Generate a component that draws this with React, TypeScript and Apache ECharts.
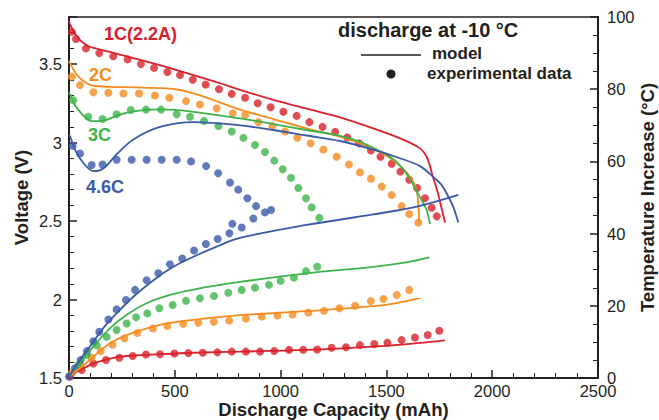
import React, { useEffect, useRef } from "react";
import * as echarts from "echarts";

// ---- Data (x: discharge capacity mAh) ----
// Voltage model curves
const model1C_V: number[][] = [[0,3.775],[5,3.753],[28,3.695],[52,3.653],[84,3.62],[115,3.603],[209,3.572],[336,3.527],[462,3.48],[588,3.43],[714,3.378],[808,3.336],[966,3.272],[1123,3.216],[1281,3.16],[1438,3.09],[1564,3.027],[1659,2.963],[1690,2.91],[1706,2.85],[1720,2.78],[1739,2.7],[1763,2.57],[1777,2.49]];
const model2C_V: number[][] = [[0,3.52],[5,3.505],[28,3.45],[52,3.41],[84,3.378],[115,3.362],[194,3.355],[351,3.35],[509,3.338],[619,3.3],[808,3.21],[966,3.15],[1123,3.09],[1281,3.037],[1375,2.995],[1470,2.94],[1549,2.87],[1595,2.81],[1627,2.75],[1645,2.68],[1651,2.6],[1655,2.49]];
const model3C_V: number[][] = [[0,3.32],[5,3.307],[28,3.239],[52,3.196],[84,3.152],[107,3.136],[162,3.14],[225,3.17],[273,3.19],[351,3.207],[430,3.211],[588,3.196],[808,3.154],[966,3.118],[1123,3.08],[1281,3.043],[1375,3.005],[1470,2.945],[1517,2.91],[1564,2.855],[1611,2.77],[1643,2.69],[1672,2.62],[1690,2.57],[1706,2.48]];
const model46C_V: number[][] = [[0,3.05],[5,3.04],[30,2.95],[68,2.87],[115,2.818],[162,2.835],[225,2.925],[304,3.02],[430,3.1],[588,3.13],[808,3.11],[966,3.08],[1123,3.045],[1281,3.01],[1438,2.955],[1564,2.9],[1659,2.85],[1730,2.77],[1761,2.73],[1793,2.655],[1816,2.59],[1840,2.49]];

// Voltage experimental data
const exp1C_V: number[][] = [[13,3.705],[33,3.66],[80,3.6],[143,3.57],[209,3.55],[277,3.53],[340,3.5],[402,3.476],[465,3.45],[525,3.43],[585,3.4],[646,3.37],[709,3.34],[769,3.31],[832,3.285],[892,3.25],[953,3.225],[1013,3.196],[1076,3.17],[1136,3.13],[1198,3.1],[1258,3.068],[1315,3.032],[1371,2.995],[1427,2.95],[1472,2.91],[1525,2.865],[1566,2.815],[1608,2.763],[1645,2.71],[1682,2.645],[1714,2.585],[1738,2.53]];
const exp2C_V: number[][] = [[13,3.42],[52,3.366],[115,3.32],[186,3.317],[257,3.313],[331,3.313],[406,3.3],[474,3.285],[553,3.264],[619,3.243],[698,3.218],[774,3.186],[832,3.175],[895,3.13],[961,3.105],[1021,3.07],[1079,3.03],[1142,2.995],[1202,2.956],[1265,2.91],[1323,2.86],[1375,2.81],[1427,2.77],[1478,2.72],[1525,2.665],[1572,2.595],[1608,2.545],[1651,2.49]];
const exp3C_V: number[][] = [[20,3.27],[91,3.164],[159,3.15],[225,3.18],[292,3.207],[364,3.21],[435,3.21],[509,3.18],[572,3.164],[638,3.137],[706,3.105],[769,3.07],[824,3.03],[879,2.984],[926,2.94],[970,2.885],[1010,2.83],[1049,2.776],[1084,2.71],[1120,2.645],[1147,2.587],[1183,2.52]];
const exp46C_V: number[][] = [[17,2.98],[52,2.93],[107,2.857],[159,2.86],[225,2.89],[296,2.89],[367,2.89],[438,2.89],[509,2.89],[577,2.88],[648,2.85],[705,2.805],[761,2.745],[800,2.7],[843,2.645],[884,2.595],[926,2.555],[955,2.57]];

// Temperature model curves (right axis, °C)
const model1C_T: number[][] = [[0,0.5],[52,2.2],[115,4.0],[194,5.4],[273,6.1],[430,6.6],[588,7.0],[808,7.3],[1123,7.8],[1438,8.7],[1600,9.4],[1777,10.4]];
const model2C_T: number[][] = [[0,0.5],[52,2.7],[115,5.9],[194,9.6],[273,11.9],[430,14.7],[588,16.1],[808,17.4],[1123,18.5],[1438,19.9],[1560,20.9],[1662,22.2]];
const model3C_T: number[][] = [[0,0.5],[52,4.1],[115,8.7],[194,13.8],[273,17.5],[367,20.7],[477,23.0],[588,24.5],[808,26.6],[1123,29.0],[1438,30.8],[1600,32.1],[1703,33.4]];
const model46C_T: number[][] = [[0,0.5],[52,5.0],[99,8.7],[162,13.8],[225,17.9],[304,22.5],[399,27.1],[493,30.8],[588,33.6],[698,36.4],[808,38.8],[1123,42.4],[1438,45.3],[1659,47.7],[1840,50.7]];

// Temperature experimental data
const exp1C_T: number[][] = [[5,0.4],[60,2.2],[115,4.0],[175,5.0],[238,5.6],[301,6.1],[364,6.5],[430,6.6],[498,6.8],[564,6.9],[632,7.0],[701,7.1],[769,7.3],[836,7.3],[903,7.3],[970,7.5],[1040,7.8],[1107,7.8],[1173,7.9],[1241,8.4],[1309,8.5],[1375,9.1],[1443,9.4],[1505,9.8],[1572,10.5],[1635,11.2],[1695,11.9],[1750,13.1]];
const exp2C_T: number[][] = [[13,1.3],[55,3.4],[107,5.7],[150,7.5],[205,9.2],[262,11.0],[323,12.5],[396,13.7],[465,14.4],[540,15.0],[611,15.3],[685,15.6],[757,15.9],[836,16.5],[911,17.0],[985,17.3],[1057,17.6],[1131,18.1],[1205,18.6],[1278,19.3],[1352,20.0],[1426,21.3],[1486,21.9],[1549,23.0],[1608,24.4]];
const exp3C_T: number[][] = [[44,3.6],[84,6.4],[131,9.1],[178,11.4],[225,13.3],[273,15.1],[317,16.8],[370,17.9],[427,19.3],[490,20.2],[553,21.4],[619,22.1],[685,22.7],[753,23.6],[816,24.4],[879,25.0],[945,25.8],[1000,26.9],[1063,27.8],[1120,29.6],[1173,30.8]];
const exp46C_T: number[][] = [[0,0.4],[28,2.7],[55,5.0],[85,7.5],[115,10.2],[143,12.8],[186,16.2],[225,19.0],[269,21.6],[312,24.4],[367,27.1],[422,29.0],[477,31.5],[535,33.1],[591,35.3],[647,37.1],[703,38.5],[758,40.1],[772,42.7],[816,41.7],[871,44.2]];

const rateLabels = ["1C(2.2A)", "2C", "3C", "4.6C"];
const xTicks = { min: 0, max: 2500, interval: 500 };
const vTicks = { min: 1.5, max: 3.8, interval: 0.5 };
const tTicks = { min: 0, max: 100, interval: 20 };

const COLORS = ["#d9202b", "#f68b1f", "#3cb44b", "#3a59a7"];
const INK = "#231f20";
const FONT = '"Liberation Sans", Arial, Helvetica, sans-serif';

export default function App() {
  const ref = useRef<HTMLDivElement>(null);
  useEffect(() => {
    document.body.style.margin = "0";
    if (!ref.current) return;
    const chart = echarts.init(ref.current, undefined, { renderer: "svg" });

    const modelsV = [model1C_V, model2C_V, model3C_V, model46C_V];
    const expsV = [exp1C_V, exp2C_V, exp3C_V, exp46C_V];
    const modelsT = [model1C_T, model2C_T, model3C_T, model46C_T];
    const expsT = [exp1C_T, exp2C_T, exp3C_T, exp46C_T];

    const series: any[] = [];
    for (let i = 0; i < 4; i++) {
      series.push({ type: "scatter", yAxisIndex: 0, data: expsV[i], symbolSize: 8, itemStyle: { color: COLORS[i] }, z: 2 });
      series.push({ type: "scatter", yAxisIndex: 1, data: expsT[i], symbolSize: 8, itemStyle: { color: COLORS[i] }, z: 2 });
    }
    for (let i = 0; i < 4; i++) {
      const common = { type: "line", showSymbol: false, smooth: 0.35, z: 3 };
      series.push({ ...common, yAxisIndex: 0, data: modelsV[i], lineStyle: { color: COLORS[i], width: 1.8 } });
      series.push({ ...common, yAxisIndex: 1, data: modelsT[i], lineStyle: { color: COLORS[i], width: 1.8 } });
    }

    const plain = (v: number) => String(v);
    const axisLabel = { color: INK, fontSize: 16.5, lineHeight: 14, fontFamily: FONT, formatter: plain };
    const nameStyle = { color: INK, fontSize: 18.5, lineHeight: 18, fontWeight: "bold", fontFamily: FONT };

    const txt = (text: string, x: number, y: number, color: string, size: number) => ({
      type: "text",
      x,
      y,
      style: {
        text,
        fill: color,
        font: `bold ${size}px ${FONT}`,
        lineHeight: size,
        align: "left",
        verticalAlign: "middle",
        textAlign: "left",
        textVerticalAlign: "middle",
      },
      z: 10,
    });

    chart.setOption({
      animation: false,
      grid: { left: 69, right: 61, top: 17, bottom: 42, show: true, borderColor: INK, borderWidth: 1.5, containLabel: false, outerBoundsMode: "none" },
      xAxis: {
        type: "value",
        min: xTicks.min,
        max: xTicks.max,
        interval: xTicks.interval,
        name: "Discharge Capacity (mAh)",
        nameLocation: "middle",
        nameGap: 22.5,
        nameMoveOverlap: false,
        nameTextStyle: nameStyle,
        axisLine: { show: true, lineStyle: { color: INK, width: 2 } },
        axisTick: { show: true, inside: true, length: 8, lineStyle: { color: INK, width: 1.5 } },
        minorTick: { show: true, splitNumber: 5, length: 5, lineStyle: { color: INK, width: 1 } },
        splitLine: { show: false },
        axisLabel: { ...axisLabel, margin: 5.5 },
      },
      yAxis: [
        {
          type: "value",
          position: "left",
          min: vTicks.min,
          max: vTicks.max,
          interval: vTicks.interval,
          name: "Voltage (V)",
          nameLocation: "middle",
          nameRotate: 90,
          nameGap: 39,
          nameMoveOverlap: false,
          nameTextStyle: nameStyle,
          axisLine: { show: true, lineStyle: { color: INK, width: 2 } },
          axisTick: { show: true, inside: true, length: 8, lineStyle: { color: INK, width: 1.5 } },
          minorTick: { show: true, splitNumber: 5, length: 5, lineStyle: { color: INK, width: 1 } },
          splitLine: { show: false },
          axisLabel: { ...axisLabel, margin: 7, showMaxLabel: false },
        },
        {
          type: "value",
          position: "right",
          min: tTicks.min,
          max: tTicks.max,
          interval: tTicks.interval,
          name: "Temperature Increase (°C)",
          nameLocation: "middle",
          nameRotate: 90,
          nameGap: 40,
          nameMoveOverlap: false,
          nameTextStyle: nameStyle,
          axisLine: { show: true, lineStyle: { color: INK, width: 2 } },
          axisTick: { show: true, inside: true, length: 8, lineStyle: { color: INK, width: 1.5 } },
          minorTick: { show: true, splitNumber: 4, length: 5, lineStyle: { color: INK, width: 1 } },
          splitLine: { show: false },
          axisLabel: { ...axisLabel, lineHeight: 12, margin: 9 },
        },
      ],
      graphic: [
        txt(rateLabels[0], 104, 34, COLORS[0], 18),
        txt(rateLabels[1], 89, 74.5, COLORS[1], 18),
        txt(rateLabels[2], 88, 135, COLORS[2], 18),
        txt(rateLabels[3], 86, 187, COLORS[3], 18),
        txt("discharge at -10 °C", 338, 30, INK, 20),
        { type: "line", shape: { x1: 361, y1: 55, x2: 421, y2: 55 }, style: { stroke: INK, lineWidth: 1.5 }, z: 10 },
        txt("model", 432, 53, INK, 17),
        { type: "circle", shape: { cx: 391, cy: 74, r: 4.5 }, style: { fill: INK }, z: 10 },
        txt("experimental data", 427, 73, INK, 17),
      ],
      series,
    });
    return () => chart.dispose();
  }, []);
  return <div ref={ref} style={{ position: "absolute", left: 0, top: 0, width: 659, height: 420 }} />;
}
